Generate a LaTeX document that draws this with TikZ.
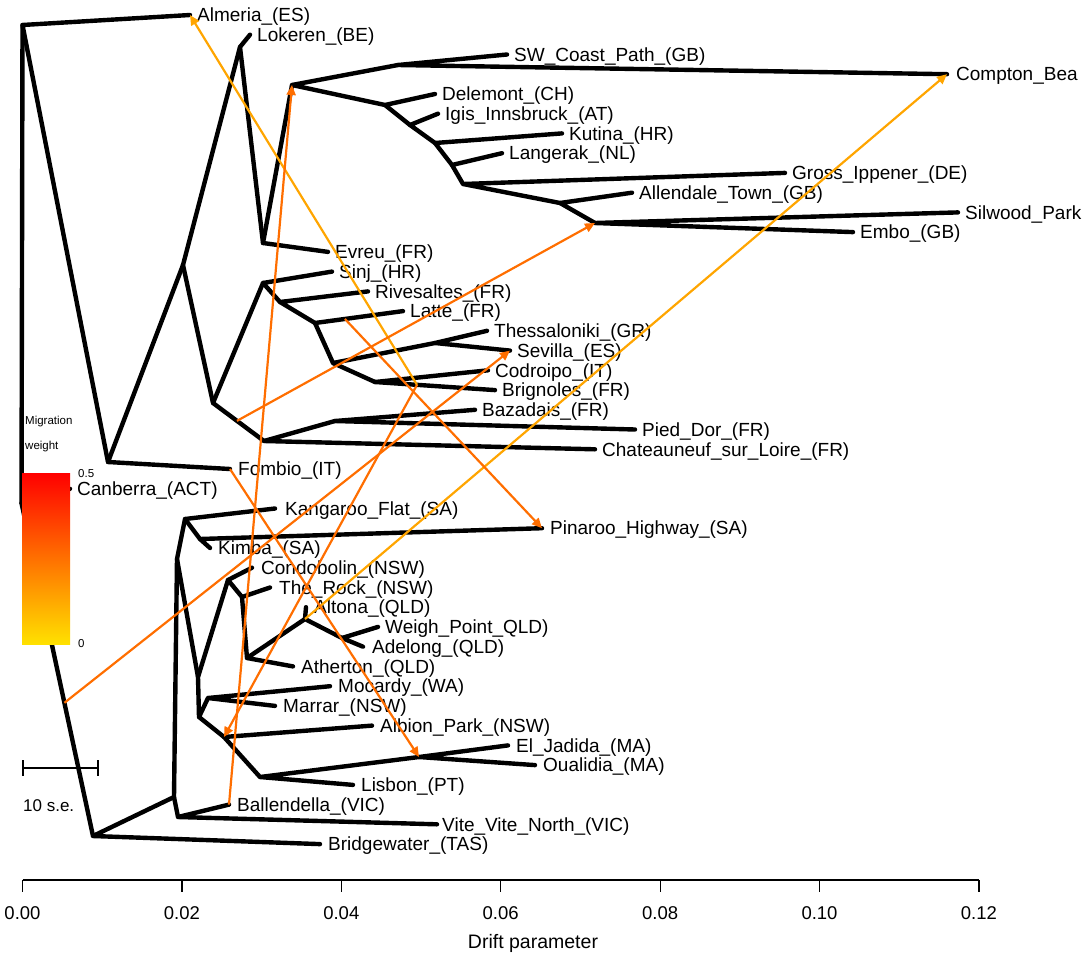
\documentclass[tikz,border=0pt]{standalone}
\usepackage{fontspec}
\setmainfont{Liberation Sans}
\usetikzlibrary{arrows.meta,positioning,calc}
\definecolor{migstrong}{HTML}{FF6E00}
\definecolor{migweak}{HTML}{FFA500}
\definecolor{barlow}{HTML}{FFE100}
\definecolor{barhigh}{HTML}{FF0000}

\begin{document}
\begin{tikzpicture}[x=1pt,y=-1pt,
  branch/.style={draw=black,line width=4.4pt,line cap=round,line join=round},
  tiplab/.style={inner sep=0pt,text height=13.4pt,text depth=0pt,
    font=\fontsize{19}{20}\selectfont},
  mig/.style={-{Triangle[length=10pt,width=9pt]},line width=2.2pt,draw=migstrong},
  migw/.style={mig,draw=migweak},
  small/.style={inner sep=0pt,anchor=west,font=\fontsize{11.5}{13}\selectfont}]
\useasboundingbox (0,0) rectangle (1083,969);
\clip (0,0) rectangle (1083,969);

% tips
\coordinate (almeria) at (190,15);
\coordinate (lokeren) at (250,34.7);
\coordinate (swcoast) at (507,54.5);
\coordinate (compton) at (947,74.2);
\coordinate (delemont) at (435,94);
\coordinate (igis) at (438,113.7);
\coordinate (kutina) at (562,133.4);
\coordinate (langerak) at (502,153.2);
\coordinate (gross) at (785,172.9);
\coordinate (allendale) at (632,192.7);
\coordinate (silwood) at (958,212.4);
\coordinate (embo) at (853,232.1);
\coordinate (evreu) at (328,251.9);
\coordinate (sinj) at (332,271.6);
\coordinate (rivesaltes) at (368,291.4);
\coordinate (latte) at (403,311.1);
\coordinate (thessaloniki) at (487,330.8);
\coordinate (sevilla) at (510,350.6);
\coordinate (codroipo) at (488,370.3);
\coordinate (brignoles) at (495,390.1);
\coordinate (bazadais) at (475,409.8);
\coordinate (pieddor) at (635,429.5);
\coordinate (chateauneuf) at (595,449.3);
\coordinate (fombio) at (230,469);
\coordinate (canberra) at (70,488.8);
\coordinate (kangaroo) at (275,508.5);
\coordinate (pinaroo) at (542,528.2);
\coordinate (kimba) at (210,548);
\coordinate (condobolin) at (252,567.7);
\coordinate (therock) at (270,587.5);
\coordinate (altona) at (306,607.2);
\coordinate (weighpoint) at (378,626.9);
\coordinate (adelong) at (363,646.7);
\coordinate (atherton) at (293,666.4);
\coordinate (mocardy) at (330,686.2);
\coordinate (marrar) at (275,705.9);
\coordinate (albion) at (372,725.6);
\coordinate (eljadida) at (508,745.4);
\coordinate (oualidia) at (535,765.1);
\coordinate (lisbon) at (353,784.9);
\coordinate (ballendella) at (229,804.6);
\coordinate (vite) at (437,824.3);
\coordinate (bridgewater) at (320,844.1);

% inner nodes
\coordinate (root) at (21.5,503);
\coordinate (ntop) at (22.5,25);
\coordinate (nbot) at (93,836);
\coordinate (n1) at (108,462);
\coordinate (n2) at (183,265);
\coordinate (n3) at (240,47);
\coordinate (n4) at (213,403);
\coordinate (n5) at (263,243);
\coordinate (n6) at (292,85);
\coordinate (n7) at (398,65);
\coordinate (n8) at (385,105);
\coordinate (n9) at (410,125);
\coordinate (n10) at (435,143);
\coordinate (n11) at (452,165);
\coordinate (n12) at (463,184);
\coordinate (n13) at (560,203);
\coordinate (n14) at (595,223);
\coordinate (n15) at (263,283);
\coordinate (n16) at (264,441);
\coordinate (n17) at (280,302);
\coordinate (n18) at (315,323);
\coordinate (n19) at (333,363);
\coordinate (n20) at (435,343);
\coordinate (n21) at (375,382);
\coordinate (n22) at (335,421);
\coordinate (n23) at (174,797);
\coordinate (n24) at (178,817);
\coordinate (n25) at (177,559);
\coordinate (n26) at (185,519);
\coordinate (n27) at (198,677);
\coordinate (n28) at (200,539);
\coordinate (n29) at (228,580);
\coordinate (n30) at (199,717);
\coordinate (n31) at (242,597);
\coordinate (n32) at (247,658);
\coordinate (n33) at (305,619);
\coordinate (n34) at (342,638);
\coordinate (n35) at (208,698);
\coordinate (n36) at (224,737);
\coordinate (n37) at (260,777);
\coordinate (n38) at (419,757);

% tree
\draw[branch] (ntop) -- (root) -- (nbot);
\draw[branch] (root) -- (canberra);
\draw[branch] (almeria) -- (ntop) -- (n1);
\draw[branch] (n2) -- (n1) -- (fombio);
\draw[branch] (n3) -- (n2) -- (n4);
\draw[branch] (lokeren) -- (n3) -- (n5);
\draw[branch] (evreu) -- (n5) -- (n6);
\draw[branch] (n7) -- (n6) -- (n8);
\draw[branch] (swcoast) -- (n7) -- (compton);
\draw[branch] (delemont) -- (n8) -- (n9);
\draw[branch] (igis) -- (n9) -- (n10);
\draw[branch] (kutina) -- (n10) -- (n11);
\draw[branch] (langerak) -- (n11) -- (n12);
\draw[branch] (gross) -- (n12) -- (n13);
\draw[branch] (allendale) -- (n13) -- (n14);
\draw[branch] (silwood) -- (n14) -- (embo);
\draw[branch] (n15) -- (n4) -- (n16);
\draw[branch] (sinj) -- (n15) -- (n17);
\draw[branch] (rivesaltes) -- (n17) -- (n18);
\draw[branch] (latte) -- (n18) -- (n19);
\draw[branch] (n20) -- (n19) -- (n21);
\draw[branch] (thessaloniki) -- (n20) -- (sevilla);
\draw[branch] (codroipo) -- (n21) -- (brignoles);
\draw[branch] (n22) -- (n16) -- (chateauneuf);
\draw[branch] (bazadais) -- (n22) -- (pieddor);
\draw[branch] (bridgewater) -- (nbot) -- (n23);
\draw[branch] (n25) -- (n23) -- (n24);
\draw[branch] (ballendella) -- (n24) -- (vite);
\draw[branch] (n26) -- (n25) -- (n27);
\draw[branch] (kangaroo) -- (n26) -- (n28);
\draw[branch] (kimba) -- (n28) -- (pinaroo);
\draw[branch] (n29) -- (n27) -- (n30);
\draw[branch] (condobolin) -- (n29) -- (n31);
\draw[branch] (therock) -- (n31) -- (n32);
\draw[branch] (atherton) -- (n32) -- (n33);
\draw[branch] (altona) -- (n33) -- (n34);
\draw[branch] (weighpoint) -- (n34) -- (adelong);
\draw[branch] (n35) -- (n30) -- (n36);
\draw[branch] (mocardy) -- (n35) -- (marrar);
\draw[branch] (albion) -- (n36) -- (n37);
\draw[branch] (n38) -- (n37) -- (lisbon);
\draw[branch] (eljadida) -- (n38) -- (oualidia);

% tip labels
\node[tiplab,right=7pt of almeria] (almeria-l) {Almeria\_(ES)};
\node[tiplab,right=7pt of lokeren] (lokeren-l) {Lokeren\_(BE)};
\node[tiplab,right=7pt of swcoast] (swcoast-l) {SW\_Coast\_Path\_(GB)};
\node[tiplab,right=9pt of compton] (compton-l) {Compton\_Bea};
\node[tiplab,right=7pt of delemont] (delemont-l) {Delemont\_(CH)};
\node[tiplab,right=7pt of igis] (igis-l) {Igis\_Innsbruck\_(AT)};
\node[tiplab,right=7pt of kutina] (kutina-l) {Kutina\_(HR)};
\node[tiplab,right=7pt of langerak] (langerak-l) {Langerak\_(NL)};
\node[tiplab,right=7pt of gross] (gross-l) {Gross\_Ippener\_(DE)};
\node[tiplab,right=7pt of allendale] (allendale-l) {Allendale\_Town\_(GB)};
\node[tiplab,right=7pt of silwood] (silwood-l) {Silwood\_Park};
\node[tiplab,right=7pt of embo] (embo-l) {Embo\_(GB)};
\node[tiplab,right=7pt of evreu] (evreu-l) {Evreu\_(FR)};
\node[tiplab,right=7pt of sinj] (sinj-l) {Sinj\_(HR)};
\node[tiplab,right=7pt of rivesaltes] (rivesaltes-l) {Rivesaltes\_(FR)};
\node[tiplab,right=7pt of latte] (latte-l) {Latte\_(FR)};
\node[tiplab,right=7pt of thessaloniki] (thessaloniki-l) {Thessaloniki\_(GR)};
\node[tiplab,right=7pt of sevilla] (sevilla-l) {Sevilla\_(ES)};
\node[tiplab,right=7pt of codroipo] (codroipo-l) {Codroipo\_(IT)};
\node[tiplab,right=7pt of brignoles] (brignoles-l) {Brignoles\_(FR)};
\node[tiplab,right=7pt of bazadais] (bazadais-l) {Bazadais\_(FR)};
\node[tiplab,right=7pt of pieddor] (pieddor-l) {Pied\_Dor\_(FR)};
\node[tiplab,right=7pt of chateauneuf] (chateauneuf-l) {Chateauneuf\_sur\_Loire\_(FR)};
\node[tiplab,right=8pt of fombio] (fombio-l) {Fombio\_(IT)};
\node[tiplab,right=7pt of canberra] (canberra-l) {Canberra\_(ACT)};
\node[tiplab,right=10pt of kangaroo] (kangaroo-l) {Kangaroo\_Flat\_(SA)};
\node[tiplab,right=8pt of pinaroo] (pinaroo-l) {Pinaroo\_Highway\_(SA)};
\node[tiplab,right=8pt of kimba] (kimba-l) {Kimba\_(SA)};
\node[tiplab,right=9pt of condobolin] (condobolin-l) {Condobolin\_(NSW)};
\node[tiplab,right=9pt of therock] (therock-l) {The\_Rock\_(NSW)};
\node[tiplab,right=8pt of altona] (altona-l) {Altona\_(QLD)};
\node[tiplab,right=7pt of weighpoint] (weighpoint-l) {Weigh\_Point\_QLD)};
\node[tiplab,right=9pt of adelong] (adelong-l) {Adelong\_(QLD)};
\node[tiplab,right=8pt of atherton] (atherton-l) {Atherton\_(QLD)};
\node[tiplab,right=8pt of mocardy] (mocardy-l) {Mocardy\_(WA)};
\node[tiplab,right=8pt of marrar] (marrar-l) {Marrar\_(NSW)};
\node[tiplab,right=8pt of albion] (albion-l) {Albion\_Park\_(NSW)};
\node[tiplab,right=8pt of eljadida] (eljadida-l) {El\_Jadida\_(MA)};
\node[tiplab,right=8pt of oualidia] (oualidia-l) {Oualidia\_(MA)};
\node[tiplab,right=8pt of lisbon] (lisbon-l) {Lisbon\_(PT)};
\node[tiplab,right=8pt of ballendella] (ballendella-l) {Ballendella\_(VIC)};
\node[tiplab,right=5pt of vite] (vite-l) {Vite\_Vite\_North\_(VIC)};
\node[tiplab,right=8pt of bridgewater] (bridgewater-l) {Bridgewater\_(TAS)};

% migration edges
\coordinate (mbrig) at ($(n21)!0.35!(brignoles)$);
\coordinate (mn4) at ($(n4)!0.47!(n16)$);
\coordinate (mroot) at ($(root)!0.6!(nbot)$);
\coordinate (mlatte) at ($(n18)!0.34!(latte)$);
\draw[migw] (mbrig) -- (almeria);
\draw[migw] (n33) -- (compton);
\draw[mig] (ballendella) -- (n6);
\draw[mig] (mn4) -- (n14);
\draw[mig] (fombio) -- (n38);
\draw[mig] (mroot) -- (sevilla);
\draw[mig] (mbrig) -- (n36);
\draw[mig] (mlatte) -- (pinaroo);

% colour key
\shade[top color=barhigh,bottom color=barlow] (22,473) rectangle (70,644);
\node[small] (key-t1) at (25,422) {Migration};
\node[small] (key-t2) at (25,447) {weight};
\node[small] (key-hi) at (78,474) {0.5};
\node[small] (key-lo) at (78,644) {0};

% scale bar
\draw[line width=1.2pt] (23,760) -- (23,776) (23,768) -- (98,768) (98,760) -- (98,776);
\node[inner sep=0pt,anchor=west,font=\fontsize{17}{19}\selectfont] (se) at (23,806) {10 s.e.};

% axis
\draw[line width=1.2pt] (22.5,880) -- (979,880);
\foreach \i/\v in {0/0.00,1/0.02,2/0.04,3/0.06,4/0.08,5/0.10,6/0.12} {
  \draw[line width=1.2pt] (22.5+159.4*\i,880) -- (22.5+159.4*\i,892);
  \node[font=\fontsize{18.5}{20}\selectfont] (tk\i) at (22.5+159.4*\i,913) {\v};
}
\node[font=\fontsize{19.5}{21}\selectfont] (xlab) at (533,943) {Drift parameter};
\end{tikzpicture}
\end{document}
